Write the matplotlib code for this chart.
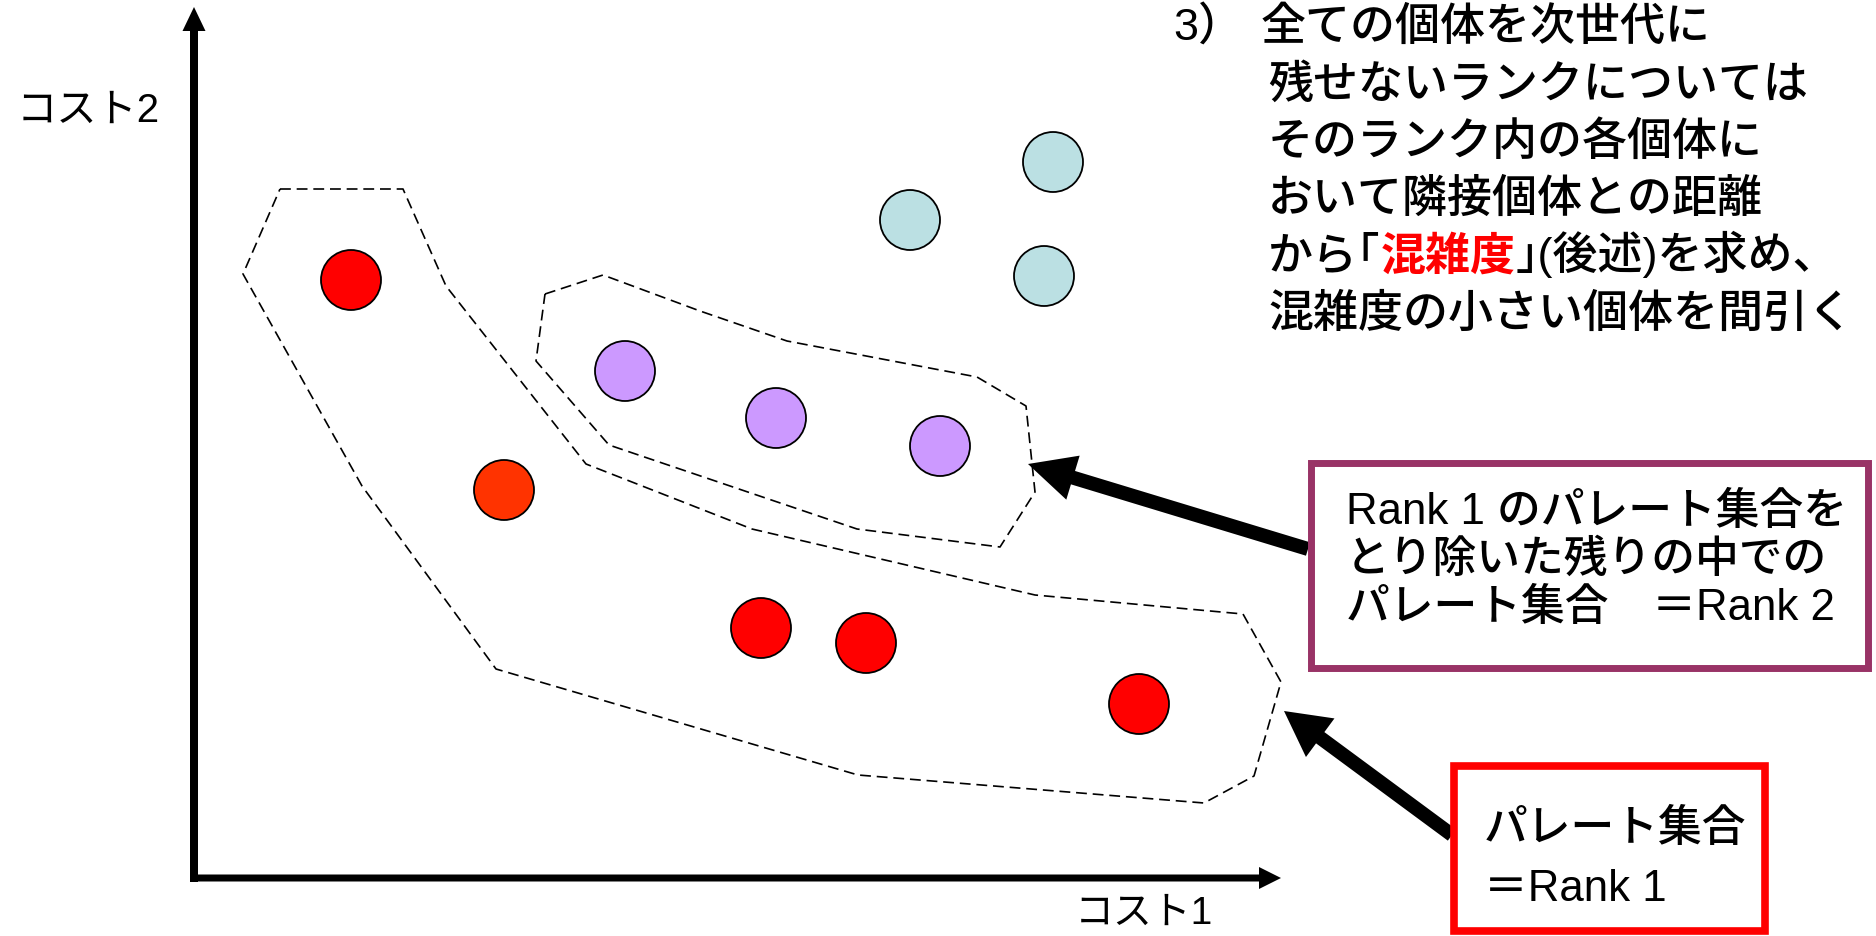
import matplotlib
matplotlib.use('Agg')
import matplotlib.pyplot as plt
from matplotlib.patches import Circle, Rectangle

plt.rcParams['font.family'] = ['Liberation Sans', 'Noto Sans CJK JP']
plt.rcParams['font.weight'] = 'medium'

# Individuals (cost1, cost2) in picture pixels, y grows downward
rank1_x = [351, 504, 761, 866, 1139]
rank1_y = [281, 491, 629, 644, 705]
rank1_colors = ['#FF0000', '#FF3300', '#FF0000', '#FF0000', '#FF0000']
rank2_x = [625, 776, 940]
rank2_y = [372, 419, 447]
rank3_x = [910, 1053, 1044]
rank3_y = [221, 163, 277]

# Dashed outlines around each Pareto set
rank1_hull_x = [280, 403, 446, 586, 752, 1035, 1243, 1281, 1254, 1204, 858, 496, 362, 243, 280]
rank1_hull_y = [190, 190, 287, 465, 530, 596, 615, 683, 777, 804, 776, 670, 487, 275, 190]
rank2_hull_x = [545, 603, 700, 787, 977, 1026, 1035, 1000, 857, 609, 536, 545]
rank2_hull_y = [295, 276, 312, 342, 378, 407, 493, 548, 530, 446, 362, 295]

note_lines = ['残せないランクについては', 'そのランク内の各個体に',
              'おいて隣接個体との距離', None, '混雑度の小さい個体を間引く']
rank2_lines = ['Rank 1 のパレート集合を', 'とり除いた残りの中での', 'パレート集合　＝Rank 2']
rank1_lines = ['パレート集合', '＝Rank 1']

fig = plt.figure(figsize=(18.76, 9.37), dpi=100)
ax = fig.add_axes([0, 0, 1, 1])
ax.set_xlim(0, 1876)
ax.set_ylim(937, 0)
ax.axis('off')

# axes arrows
ax.arrow(194, 883, 0, -875, width=8, head_width=23, head_length=24,
         length_includes_head=True, fc='k', ec='none')
ax.arrow(190, 879, 1091, 0, width=7, head_width=22, head_length=22,
         length_includes_head=True, fc='k', ec='none')
ax.text(88, 111, 'コスト2', fontsize=29, ha='center', va='center', fontweight='normal')
ax.text(1144, 914, 'コスト1', fontsize=28, ha='center', va='center', fontweight='normal')

ax.plot(rank1_hull_x, rank1_hull_y, color='k', lw=1.2, ls=(0, (6.5, 3.5)))
ax.plot(rank2_hull_x, rank2_hull_y, color='k', lw=1.2, ls=(0, (6.5, 3.5)))

for x, y, c in zip(rank1_x, rank1_y, rank1_colors):
    ax.add_patch(Circle((x, y), 30, fc=c, ec='k', lw=1.3))
for x, y in zip(rank2_x, rank2_y):
    ax.add_patch(Circle((x, y), 30, fc='#CC99FF', ec='k', lw=1.3))
for x, y in zip(rank3_x, rank3_y):
    ax.add_patch(Circle((x, y), 30, fc='#BBE0E3', ec='k', lw=1.3))

# pointer arrows
ax.arrow(1308, 550, 1028 - 1308, 465 - 550, width=14, head_width=46, head_length=47,
         length_includes_head=True, fc='k', ec='none')
ax.arrow(1452, 836, 1284 - 1452, 712 - 836, width=14, head_width=48, head_length=45,
         length_includes_head=True, fc='k', ec='none')

# boxes
ax.add_patch(Rectangle((1310.5, 463.5), 557, 205, fc='white', ec='#993366', lw=5))
ax.add_patch(Rectangle((1454, 767), 311, 165, fc='white', ec='#FF0000', lw=5.5))
for i, s in enumerate(rank2_lines):
    ax.text(1346, 512 + 48 * i, s, fontsize=31.5, ha='left', va='center')
ax.text(1484, 829, rank1_lines[0], fontsize=31.5, ha='left', va='center')
ax.text(1484, 890, rank1_lines[1], fontsize=31.5, ha='left', va='center')

# note text, upper right
fs = 32.4
ax.text(1173, 28, '3）', fontsize=fs, ha='left', va='center')
ax.text(1261, 28, '全ての個体を次世代に', fontsize=fs, ha='left', va='center')
for i, s in enumerate(note_lines):
    if s is not None:
        ax.text(1268, 85 + 57.5 * i, s, fontsize=fs, ha='left', va='center')
y5 = 85 + 57.5 * 3
t1 = ax.text(1268, y5, 'から｢', fontsize=fs, ha='left', va='center')
t2 = ax.annotate('混雑度', xy=(1, 0), xycoords=t1, fontsize=fs, ha='left', va='bottom',
                 color='#FF0000', fontweight='bold')
ax.annotate('｣(後述)を求め、', xy=(1, 0), xycoords=t2, fontsize=fs, ha='left', va='bottom')

fig.savefig('out.png', dpi=100)
